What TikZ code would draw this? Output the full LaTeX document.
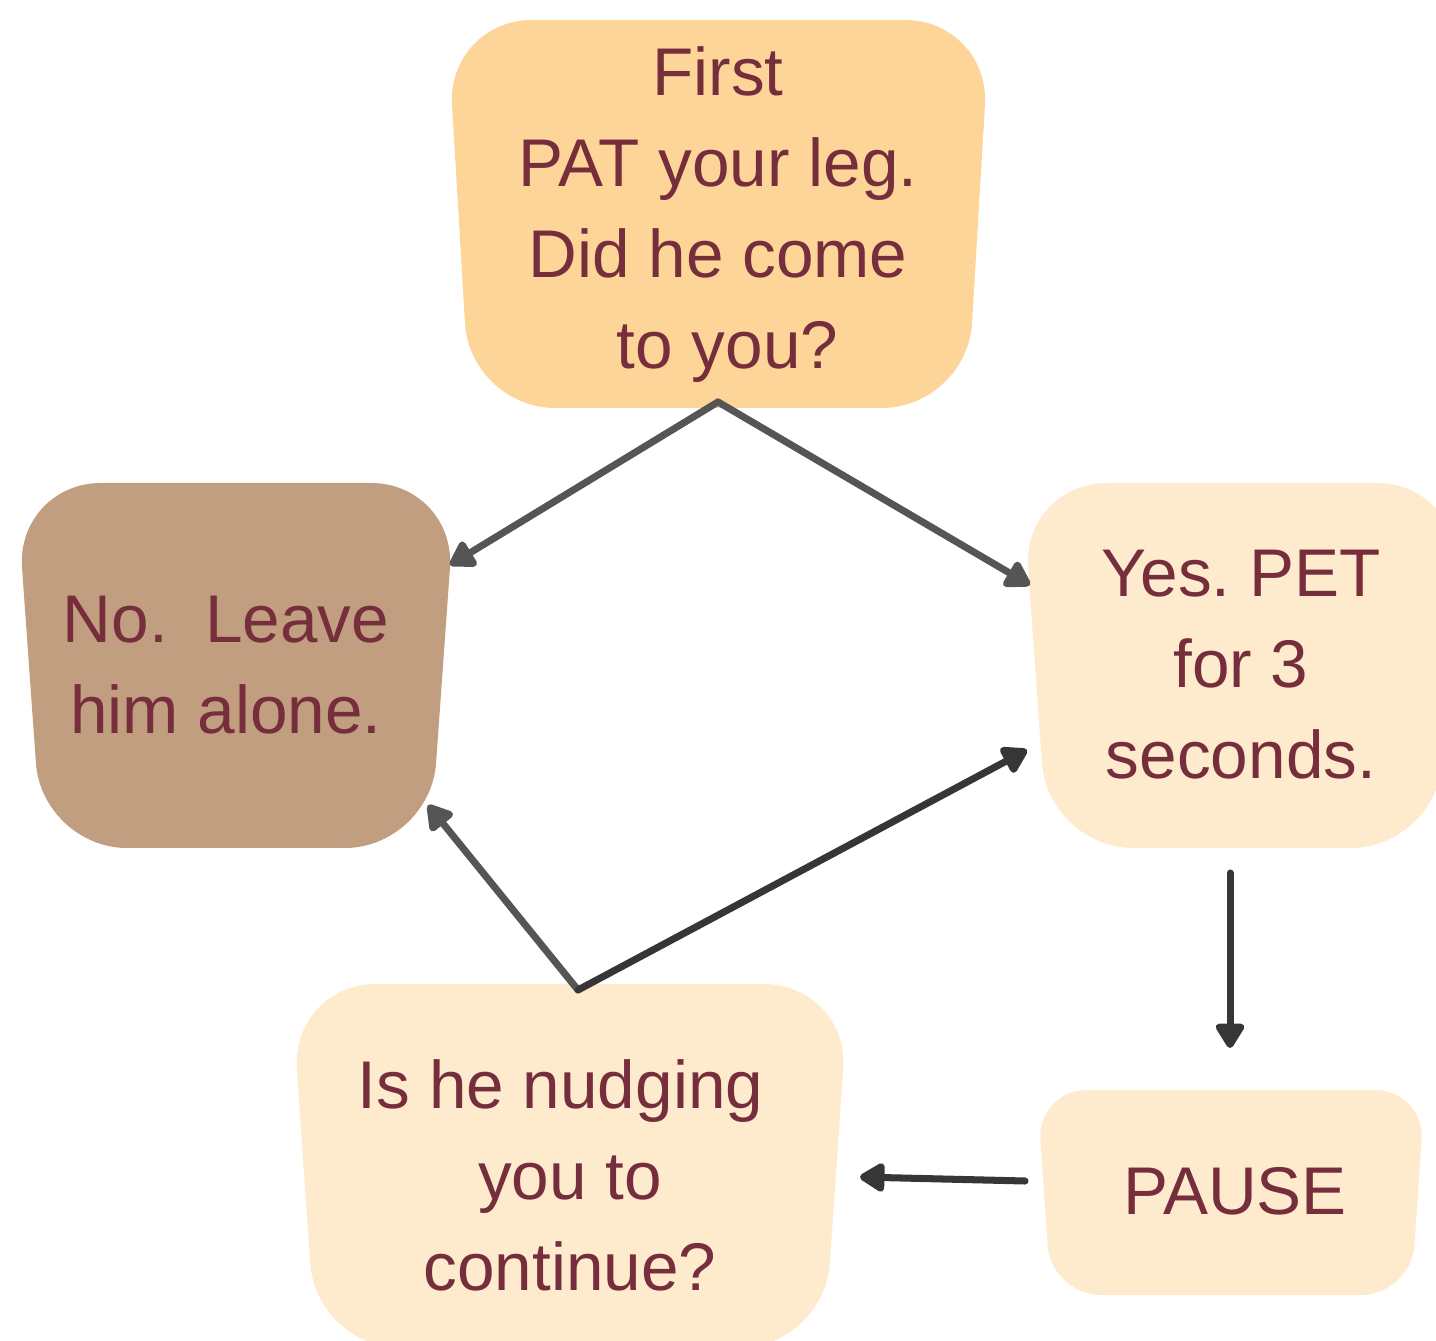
\documentclass[tikz,border=0pt]{standalone}
\usepackage{fontspec}
\setmainfont{Liberation Sans}
\usepackage{xcolor}
\usepackage{tikz}
\usetikzlibrary{arrows.meta}
\frenchspacing

\definecolor{patfill}{HTML}{FDD599}
\definecolor{leavefill}{HTML}{C19E7F}
\definecolor{creamfill}{HTML}{FEEBCE}
\definecolor{wine}{HTML}{762E3D}
\definecolor{greyline}{HTML}{555555}
\definecolor{darkline}{HTML}{363636}

\tikzset{
  bubble/.style={rounded corners=0.85cm},
  words/.style={text=wine, align=center, inner sep=0pt, font=\fontsize{19.2}{25.9}\selectfont},
  link/.style={-{Triangle[length=0.28cm, width=0.32cm, round]}, line width=2pt, line cap=round, line join=round}
}

\begin{document}
\begin{tikzpicture}
            \useasboundingbox (0,0) rectangle (14.36,13.40);
            % boxes
            \fill[bubble, patfill] (4.47,13.20) -- (9.90,13.20) -- (9.67,9.32) -- (4.70,9.32) -- cycle;
            \fill[bubble, leavefill] (0.16,8.57) -- (4.56,8.57) -- (4.30,4.92) -- (0.42,4.92) -- cycle;
            \fill[bubble, creamfill] (10.22,8.57) -- (14.62,8.57) -- (14.36,4.92) -- (10.48,4.92) -- cycle;
            \fill[bubble, rounded corners=0.5cm, creamfill] (10.37,2.50) -- (14.25,2.50) -- (14.11,0.45) -- (10.51,0.45) -- cycle;
            \fill[bubble, creamfill] (2.91,3.56) -- (8.49,3.56) -- (8.24,-0.08) -- (3.16,-0.08) -- cycle;

            \node[words] (pat) at (7.18,11.25) {First\\PAT your leg.\\Did he come\\\hspace*{0.28em}to you?};
            \node[words] (leave) at (2.26,6.75) {No.\ \ Leave\\him alone.};
            \node[words] (pet) at (12.41,6.75) {Yes. PET\\for 3\\seconds.};
            \node[words] (pause) at (12.35,1.49) {PAUSE};
            \node[words] (nudge) at (5.70,1.65) {Is he nudging\hspace*{0.28em}\\you to\\continue?};

            % connector ends
            \coordinate (patout) at (7.18,9.38);
            \coordinate (leavein) at (4.50,7.75);
            \coordinate (petin) at (10.30,7.55);
            \coordinate (petout) at (12.30,4.67);
            \coordinate (pausein) at (12.30,2.92);
            \coordinate (pauseout) at (10.25,1.59);
            \coordinate (nudgein) at (8.60,1.63);
            \coordinate (nudgeout) at (5.78,3.50);
            \coordinate (leaveback) at (4.28,5.35);
            \coordinate (petback) at (10.27,5.90);

            \draw[link, greyline] (patout) -- (leavein);
            \draw[link, greyline] (patout) -- (petin);
            \draw[link, darkline] (petout) -- (pausein);
            \draw[link, darkline] (pauseout) -- (nudgein);
            \draw[link, greyline] (nudgeout) -- (leaveback);
            \draw[link, darkline] (nudgeout) -- (petback);
        \end{tikzpicture}
\end{document}
